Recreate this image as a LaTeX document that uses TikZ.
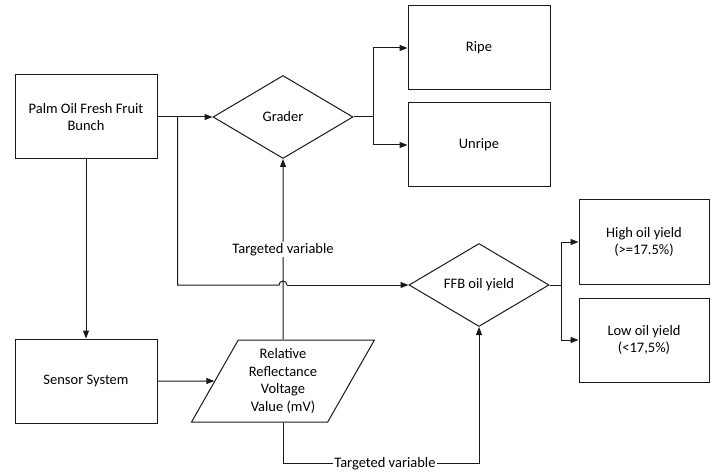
\documentclass[tikz,border=0pt]{standalone}
\usepackage{fontspec}
\setmainfont{Carlito}
\usetikzlibrary{arrows.meta,shapes.geometric}

\tikzset{
  block/.style={rectangle, draw=black!90, line width=1pt, minimum width=142pt, minimum height=84pt, align=center},
  side/.style={block, minimum width=130pt},
  decision/.style={diamond, draw=black!90, line width=1pt, inner sep=0pt, aspect=1.7, minimum width=140pt, minimum height=83pt, align=center},
  io/.style={trapezium, trapezium left angle=63.4, trapezium right angle=116.6, trapezium stretches=true, draw=black!90, line width=1pt, minimum width=183pt, minimum height=82pt, inner xsep=0pt, align=center},
  tag/.style={fill=white, inner sep=1pt}
}

\begin{document}
\begin{tikzpicture}[x=1pt, y=1pt, ->, >={Triangle[length=8pt,width=6pt]}, line width=1pt, draw=black!90, node distance=197pt, font=\fontsize{14.5}{17.5}\selectfont]
  \useasboundingbox (0,0) rectangle (712,-473);

  \node[block]    (Bunch)   at (86,-117)                                  {Palm Oil Fresh Fruit\\Bunch};
  \node[decision] (Grader)  [right of=Bunch]                              {Grader};
  \node[block]    (Ripe)    [right of=Grader, node distance=196pt, yshift=69pt]  {Ripe};
  \node[block]    (Unripe)  [right of=Grader, node distance=196pt, yshift=-28pt] {Unripe};
  \node[block]    (Sensor)  [below of=Bunch, node distance=264pt]         {Sensor System};
  \node[io]       (Voltage) [right of=Sensor]                             {Relative\\Reflectance\\Voltage\\Value (mV)};
  \node[decision] (Yield)   [below of=Unripe, node distance=140pt]        {FFB oil yield};
  \node[side]     (High)    [right of=Yield, node distance=165pt, yshift=43pt]   {High oil yield\\(>=17.5\%)};
  \node[side]     (Low)     [right of=Yield, node distance=165pt, yshift=-55pt]  {Low oil yield\\(<17,5\%)};

  \coordinate (split)  at ([xshift=20pt]Bunch.east);
  \coordinate (hop)    at (Grader |- Yield.west);
  \coordinate (gsplit) at ([xshift=20pt]Grader.east);
  \coordinate (ysplit) at ([xshift=12pt]Yield.east);
  \coordinate (turn)   at ([yshift=-41pt]Voltage.south);

  \draw (Bunch) -- (Grader);
  \draw[-] (split) -- (split |- Yield.west) -- ([xshift=-4pt]hop) arc[start angle=180, end angle=0, radius=4pt];
  \draw ([xshift=4pt]hop) -- (Yield.west);
  \draw (Bunch) -- (Sensor);
  \draw (Sensor) -- (Voltage);
  \draw (Voltage.north) -- node[tag] {Targeted variable} (Grader.south);
  \draw (Voltage.south) -- (turn) -| node[tag, pos=0.26] {Targeted variable} (Yield.south);

  \draw[-] (Grader.east) -- (gsplit);
  \draw (gsplit) |- (Ripe.west);
  \draw (gsplit) |- (Unripe.west);
  \draw[-] (Yield.east) -- (ysplit);
  \draw (ysplit) |- (High.west);
  \draw (ysplit) |- (Low.west);
\end{tikzpicture}
\end{document}
